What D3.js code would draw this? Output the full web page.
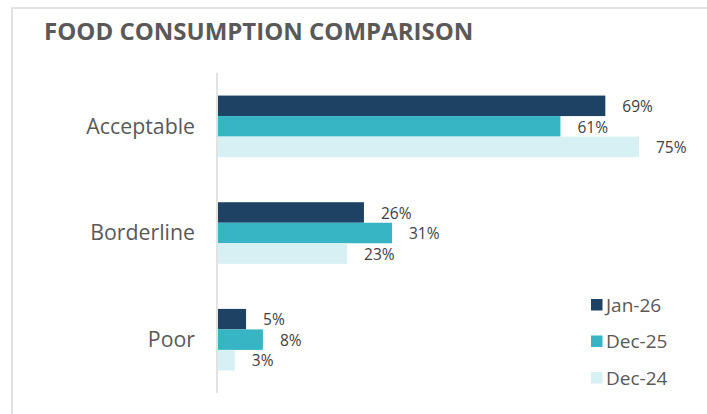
<!DOCTYPE html>
<html>
<head>
<meta charset="utf-8">
<script src="https://cdn.jsdelivr.net/npm/d3@7"></script>
<style>
  body { margin: 0; background: #fff; }
  svg { display: block; font-family: "Open Sans", sans-serif; }
</style>
</head>
<body>
<div id="chart"></div>
<script>
// data
const categories = ["Acceptable", "Borderline", "Poor"];
const seriesNames = ["Jan-26", "Dec-25", "Dec-24"];
const jan26 = [69, 26, 5];
const dec25 = [61, 31, 8];
const dec24 = [75, 23, 3];
const seriesValues = [jan26, dec25, dec24];
const colors = ["#1d4264", "#37b5c5", "#d6f0f3"];

const width = 707, height = 414;

let svg = d3.select("#chart")
    .append("svg")
    .attr("width", width)
    .attr("height", height);

// frame (top and left edges)
svg.append("path")
    .attr("d", `M12,${height} V8 H${width}`)
    .attr("fill", "none")
    .attr("stroke", "#e2e2e2")
    .attr("stroke-width", 2);

// title
svg.append("text")
    .attr("x", 44)
    .attr("y", 40)
    .style("font-size", "24px")
    .style("font-weight", "bold")
    .style("fill", "#595959")
    .text("FOOD CONSUMPTION COMPARISON");

// scales
const x = d3.scaleLinear().domain([0, 75]).range([218, 639]);
const y0 = d3.scaleBand().domain(categories).range([73, 393]);
const y1 = d3.scaleBand().domain(seriesNames)
    .range([0, y0.bandwidth()])
    .paddingOuter(1.1);

// vertical axis line
svg.append("line")
    .attr("x1", 217).attr("x2", 217)
    .attr("y1", 73).attr("y2", 393)
    .attr("stroke", "#d9d9d9")
    .attr("stroke-width", 1.5);

// category labels
svg.selectAll(".cat")
    .data(categories)
    .enter()
    .append("text")
    .attr("x", 195)
    .attr("y", d => y0(d) + y0.bandwidth() / 2)
    .attr("dy", "0.35em")
    .style("text-anchor", "end")
    .style("font-size", "21.3px")
    .style("fill", "#595959")
    .text(d => d);

// bars + value labels
const rows = [];
categories.forEach((c, i) => {
    seriesNames.forEach((s, j) => {
        rows.push({ cat: c, series: s, value: seriesValues[j][i], color: colors[j] });
    });
});

let groups = svg.selectAll(".bar")
    .data(rows)
    .enter()
    .append("g");

groups.append("rect")
    .attr("x", x(0))
    .attr("y", d => y0(d.cat) + y1(d.series))
    .attr("width", d => x(d.value) - x(0))
    .attr("height", y1.bandwidth())
    .attr("fill", d => d.color);

groups.append("text")
    .attr("x", d => x(d.value) + 17)
    .attr("y", d => y0(d.cat) + y1(d.series) + y1.bandwidth() / 2)
    .attr("dy", "0.4em")
    .style("font-size", "15.5px")
    .style("fill", "#404040")
    .text(d => d.value + "%");

// legend
let legend = svg.selectAll(".legend")
    .data(seriesNames)
    .enter()
    .append("g")
    .attr("transform", (d, i) => `translate(591, ${305 + i * 36.5})`);

legend.append("rect")
    .attr("x", 0)
    .attr("y", -6)
    .attr("width", 11.5)
    .attr("height", 11.5)
    .attr("fill", (d, i) => colors[i]);

legend.append("text")
    .attr("x", 15)
    .attr("y", 0)
    .attr("dy", "0.35em")
    .style("font-size", "19px")
    .style("fill", "#595959")
    .text(d => d);
</script>
</body>
</html>
